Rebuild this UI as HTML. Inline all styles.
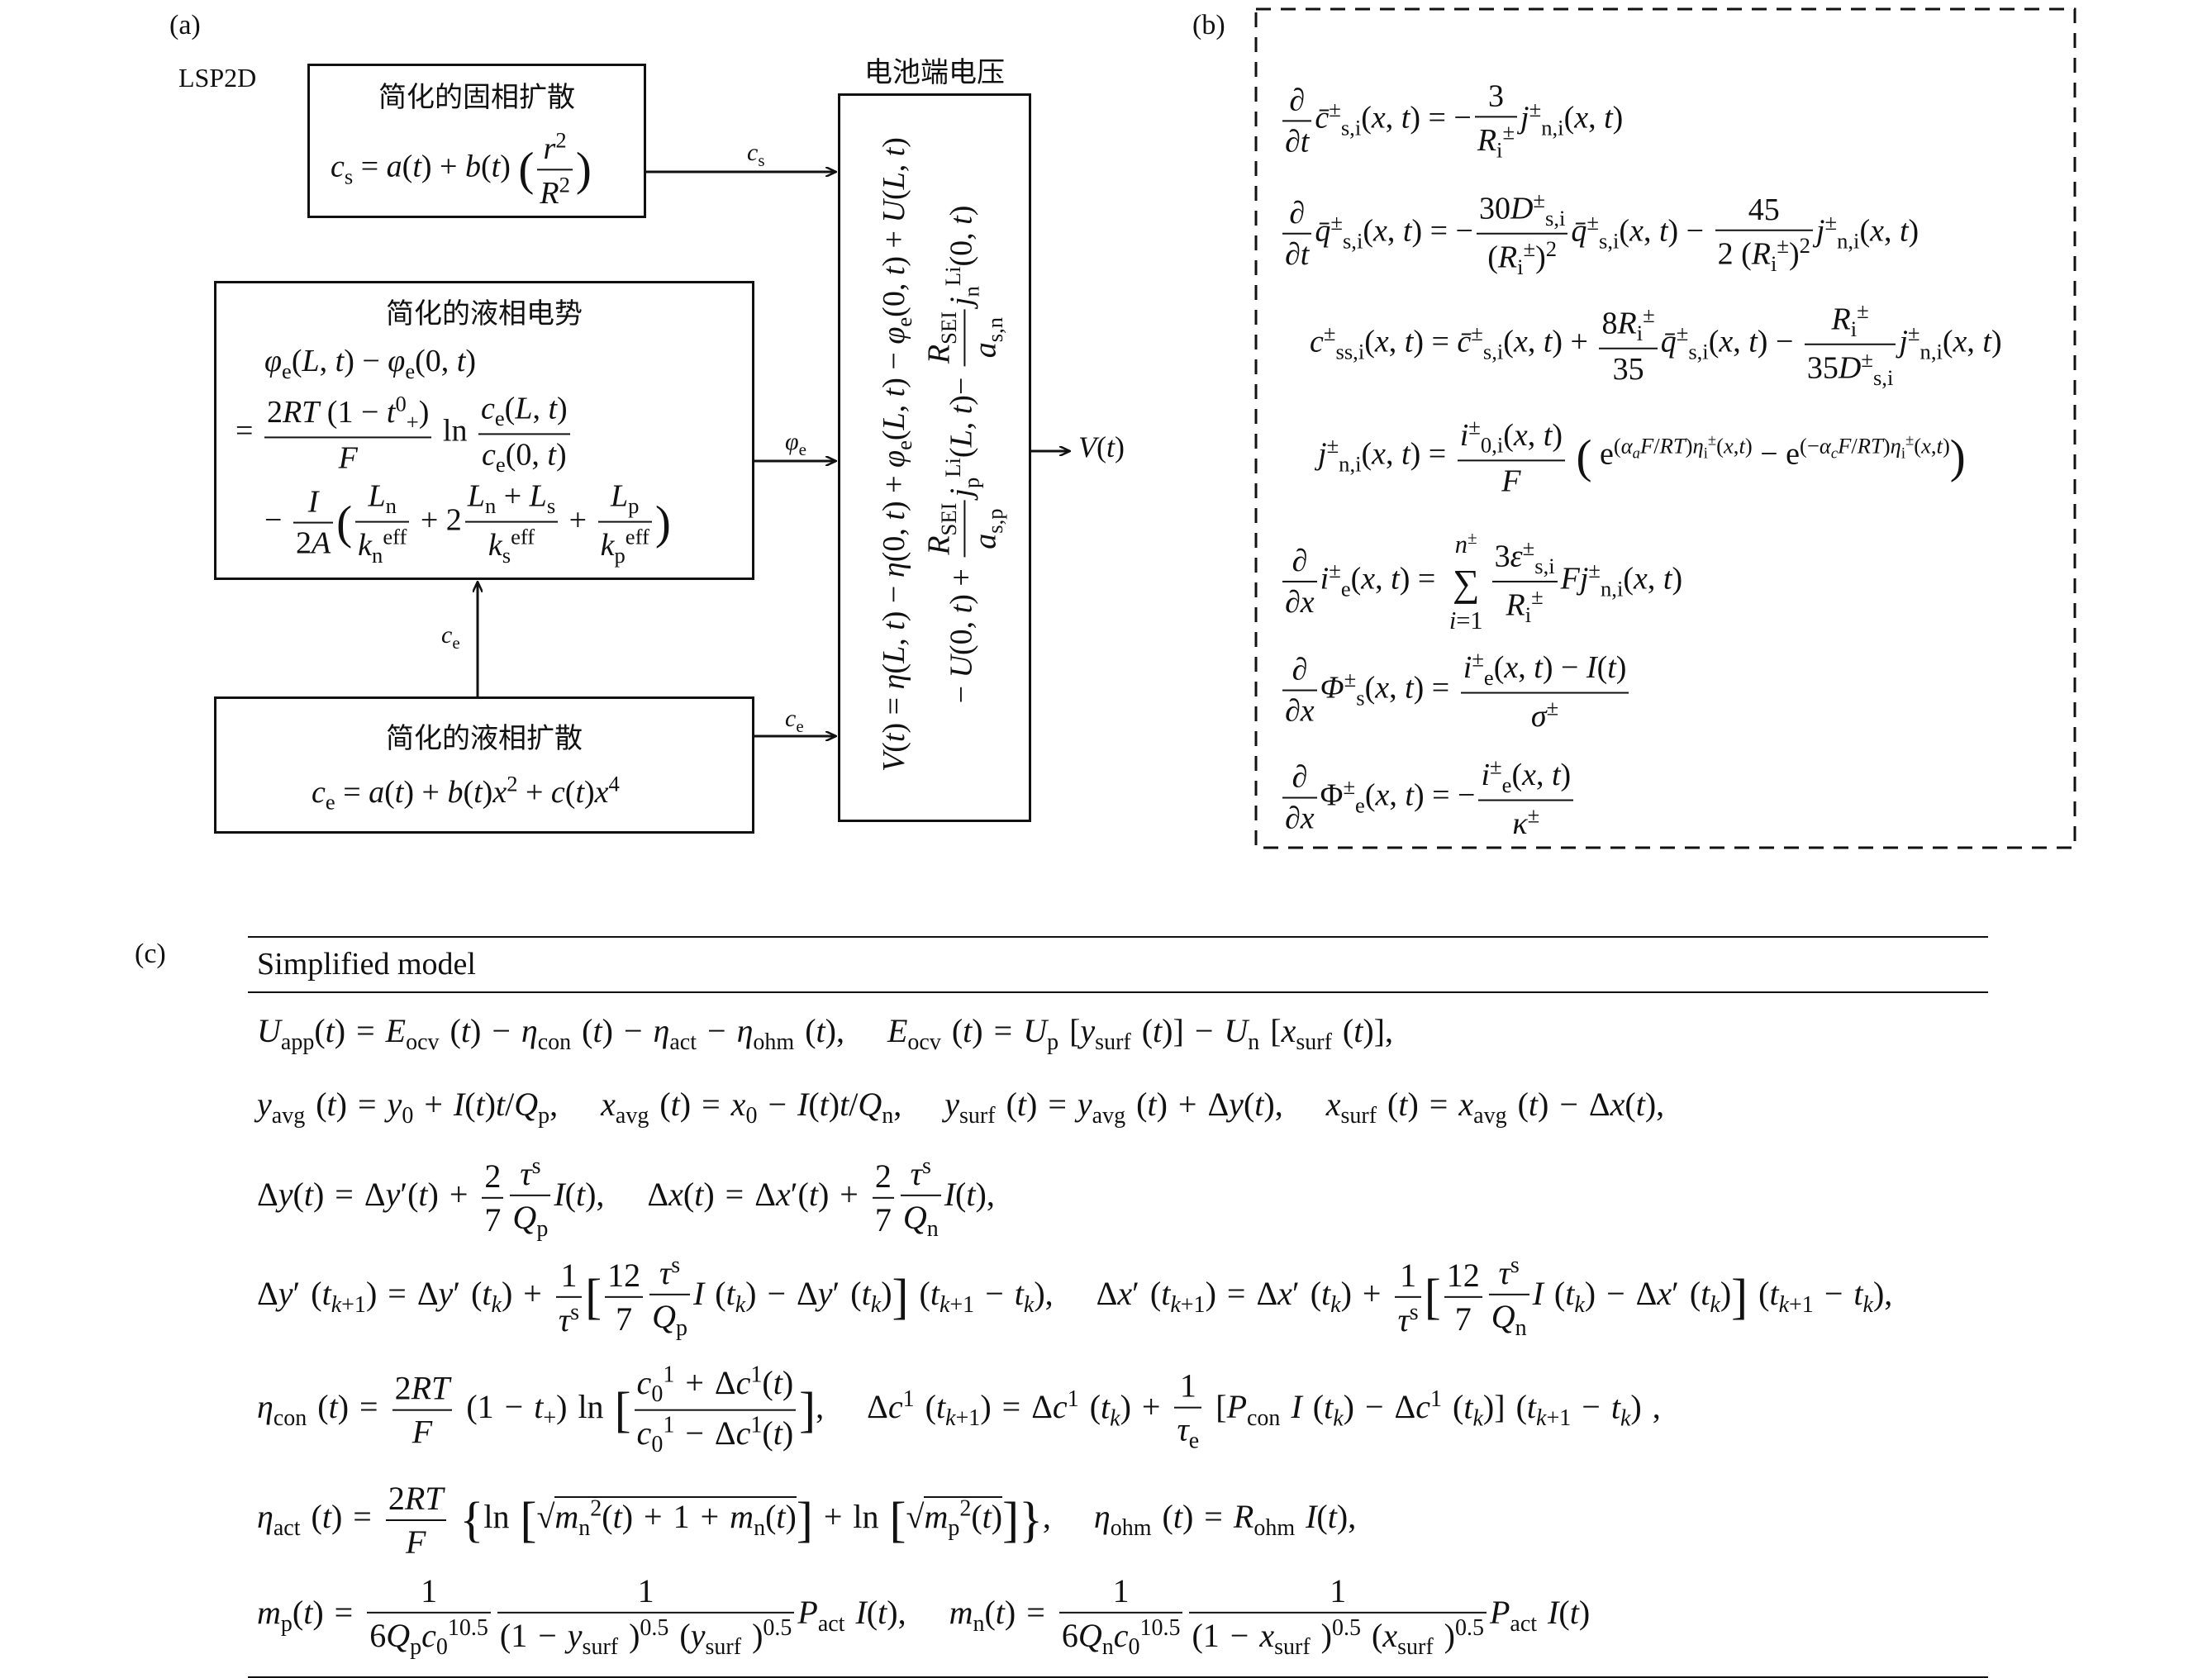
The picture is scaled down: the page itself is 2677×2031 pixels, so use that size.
<!DOCTYPE html>
<html><head><meta charset="utf-8">
<style>
html,body{margin:0;padding:0;background:#fff;}
body{width:2677px;height:2031px;position:relative;overflow:hidden;font-family:"Liberation Serif","Noto Serif CJK SC",serif;color:#111;}
.a{position:absolute;white-space:nowrap;}
.eq{position:absolute;white-space:nowrap;font-size:38px;transform:translateY(-50%);}
.box{position:absolute;border:3px solid #111;box-sizing:border-box;}
i{font-style:italic;}
.fr{display:inline-flex;flex-direction:column;vertical-align:middle;text-align:center;margin:0 4px;}
.fr>span:first-child{border-bottom:2px solid #111;padding:0 3px 2px;}
.fr>span:last-child{padding:2px 3px 0;}
sub,sup{font-size:70%;}
.cn{font-family:"Noto Sans CJK SC","Noto Serif CJK SC",sans-serif;}
.big{font-size:150%;vertical-align:middle;}
.c{font-size:40px !important;word-spacing:3px;}
</style></head><body>
<svg class="a" style="left:0;top:0" width="2677" height="2031">
<defs><marker id="ar" markerWidth="14" markerHeight="12" refX="13" refY="6" orient="auto" markerUnits="userSpaceOnUse"><path d="M0,0 L13,6 L0,12" fill="none" stroke="#111" stroke-width="2.5"/></marker></defs>
<g stroke="#111" stroke-width="3" fill="none">
<line x1="782" y1="208" x2="1012" y2="208" marker-end="url(#ar)"/>
<line x1="913" y1="558" x2="1012" y2="558" marker-end="url(#ar)"/>
<line x1="913" y1="891" x2="1012" y2="891" marker-end="url(#ar)"/>
<line x1="578" y1="843" x2="578" y2="704" marker-end="url(#ar)"/>
<line x1="1248" y1="546" x2="1295" y2="546" marker-end="url(#ar)"/>
<rect x="1520" y="11" width="991" height="1015" stroke-dasharray="18,12"/>
<line x1="300" y1="1134" x2="2406" y2="1134" stroke-width="2"/>
<line x1="300" y1="1201" x2="2406" y2="1201" stroke-width="2"/>
<line x1="300" y1="2030" x2="2406" y2="2030" stroke-width="2"/>
</g></svg>

<div class="a" style="left:205px;top:12px;font-size:34px">(a)</div>
<div class="a" style="left:216px;top:76px;font-size:32px">LSP2D</div>
<div class="a" style="left:1443px;top:12px;font-size:34px">(b)</div>
<div class="a" style="left:163px;top:1136px;font-size:34px">(c)</div>

<div class="box" style="left:372px;top:77px;width:410px;height:187px"></div>
<div class="a cn" style="left:372px;top:90px;width:410px;text-align:center;font-size:34px">简化的固相扩散</div>
<div class="eq" style="left:400px;top:205px"><i>c</i><sub>s</sub> = <i>a</i>(<i>t</i>) + <i>b</i>(<i>t</i>) <span class="big">(</span><span class="fr"><span><i>r</i><sup>2</sup></span><span><i>R</i><sup>2</sup></span></span><span class="big">)</span></div>

<div class="box" style="left:259px;top:340px;width:654px;height:362px"></div>
<div class="a cn" style="left:259px;top:352px;width:654px;text-align:center;font-size:34px">简化的液相电势</div>
<div class="eq" style="left:320px;top:440px"><i>φ</i><sub>e</sub>(<i>L</i>, <i>t</i>) − <i>φ</i><sub>e</sub>(0, <i>t</i>)</div>
<div class="eq" style="left:285px;top:525px">= <span class="fr"><span>2<i>RT</i> (1 − <i>t</i><sup>0</sup><sub>+</sub>)</span><span><i>F</i></span></span> ln <span class="fr"><span><i>c</i><sub>e</sub>(<i>L</i>, <i>t</i>)</span><span><i>c</i><sub>e</sub>(0, <i>t</i>)</span></span></div>
<div class="eq" style="left:320px;top:633px">− <span class="fr"><span><i>I</i></span><span>2<i>A</i></span></span><span class="big">(</span><span class="fr"><span><i>L</i><sub>n</sub></span><span><i>k</i><sub>n</sub><sup>eff</sup></span></span> + 2<span class="fr"><span><i>L</i><sub>n</sub> + <i>L</i><sub>s</sub></span><span><i>k</i><sub>s</sub><sup>eff</sup></span></span> + <span class="fr"><span><i>L</i><sub>p</sub></span><span><i>k</i><sub>p</sub><sup>eff</sup></span></span><span class="big">)</span></div>

<div class="box" style="left:259px;top:843px;width:654px;height:166px"></div>
<div class="a cn" style="left:259px;top:866px;width:654px;text-align:center;font-size:34px">简化的液相扩散</div>
<div class="eq" style="left:377px;top:960px"><i>c</i><sub>e</sub> = <i>a</i>(<i>t</i>) + <i>b</i>(<i>t</i>)<i>x</i><sup>2</sup> + <i>c</i>(<i>t</i>)<i>x</i><sup>4</sup></div>

<div class="a" style="left:904px;top:168px;font-size:30px"><i>c</i><sub>s</sub></div>
<div class="a" style="left:950px;top:518px;font-size:30px"><i>φ</i><sub>e</sub></div>
<div class="a" style="left:950px;top:853px;font-size:30px"><i>c</i><sub>e</sub></div>
<div class="a" style="left:534px;top:752px;font-size:30px"><i>c</i><sub>e</sub></div>
<div class="a" style="left:1305px;top:520px;font-size:36px"><i>V</i>(<i>t</i>)</div>

<div class="a cn" style="left:1014px;top:60px;width:234px;text-align:center;font-size:34px">电池端电压</div>
<div class="box" style="left:1014px;top:113px;width:234px;height:882px"></div>
<div class="a" style="left:1085px;top:550px;font-size:38px;transform:translate(-50%,-50%) rotate(-90deg)"><i>V</i>(<i>t</i>) = <i>η</i>(<i>L</i>, <i>t</i>) − <i>η</i>(0, <i>t</i>) + <i>φ</i><sub>e</sub>(<i>L</i>, <i>t</i>) − <i>φ</i><sub>e</sub>(0, <i>t</i>) + <i>U</i>(<i>L</i>, <i>t</i>)</div>
<div class="a" style="left:1167px;top:550px;font-size:38px;transform:translate(-50%,-50%) rotate(-90deg)">− <i>U</i>(0, <i>t</i>) + <span class="fr"><span><i>R</i><sub>SEI</sub></span><span><i>a</i><sub>s,p</sub></span></span><i>j</i><sub>p</sub><sup>Li</sup>(<i>L</i>, <i>t</i>)− <span class="fr"><span><i>R</i><sub>SEI</sub></span><span><i>a</i><sub>s,n</sub></span></span><i>j</i><sub>n</sub><sup>Li</sup>(0, <i>t</i>)</div>

<!-- (b) -->
<div class="eq" style="left:1548px;top:146px"><span class="fr"><span>∂</span><span>∂<i>t</i></span></span><i>c̄</i><sup>±</sup><sub>s,i</sub>(<i>x</i>, <i>t</i>) = −<span class="fr"><span>3</span><span><i>R</i><sub>i</sub><sup>±</sup></span></span><i>j</i><sup>±</sup><sub>n,i</sub>(<i>x</i>, <i>t</i>)</div>
<div class="eq" style="left:1548px;top:283px"><span class="fr"><span>∂</span><span>∂<i>t</i></span></span><i>q̄</i><sup>±</sup><sub>s,i</sub>(<i>x</i>, <i>t</i>) = −<span class="fr"><span>30<i>D</i><sup>±</sup><sub>s,i</sub></span><span>(<i>R</i><sub>i</sub><sup>±</sup>)<sup>2</sup></span></span><i>q̄</i><sup>±</sup><sub>s,i</sub>(<i>x</i>, <i>t</i>) − <span class="fr"><span>45</span><span>2 (<i>R</i><sub>i</sub><sup>±</sup>)<sup>2</sup></span></span><i>j</i><sup>±</sup><sub>n,i</sub>(<i>x</i>, <i>t</i>)</div>
<div class="eq" style="left:1585px;top:417px"><i>c</i><sup>±</sup><sub>ss,i</sub>(<i>x</i>, <i>t</i>) = <i>c̄</i><sup>±</sup><sub>s,i</sub>(<i>x</i>, <i>t</i>) + <span class="fr"><span>8<i>R</i><sub>i</sub><sup>±</sup></span><span>35</span></span><i>q̄</i><sup>±</sup><sub>s,i</sub>(<i>x</i>, <i>t</i>) − <span class="fr"><span><i>R</i><sub>i</sub><sup>±</sup></span><span>35<i>D</i><sup>±</sup><sub>s,i</sub></span></span><i>j</i><sup>±</sup><sub>n,i</sub>(<i>x</i>, <i>t</i>)</div>
<div class="eq" style="left:1595px;top:553px"><i>j</i><sup>±</sup><sub>n,i</sub>(<i>x</i>, <i>t</i>) = <span class="fr"><span><i>i</i><sup>±</sup><sub>0,i</sub>(<i>x</i>, <i>t</i>)</span><span><i>F</i></span></span> <span class="big">(</span> e<sup>(<i>α<sub>a</sub>F</i>/<i>RT</i>)<i>η</i><sub>i</sub><sup>±</sup>(<i>x</i>,<i>t</i>)</sup> − e<sup>(−<i>α<sub>c</sub>F</i>/<i>RT</i>)<i>η</i><sub>i</sub><sup>±</sup>(<i>x</i>,<i>t</i>)</sup><span class="big">)</span></div>
<div class="eq" style="left:1548px;top:704px"><span class="fr"><span>∂</span><span>∂<i>x</i></span></span><i>i</i><sup>±</sup><sub>e</sub>(<i>x</i>, <i>t</i>) = <span class="fr" style="font-size:80%"><span style="border:none"><i>n</i><sup>±</sup></span><span style="font-size:150%">∑</span><span><i>i</i>=1</span></span><span class="fr"><span>3<i>ε</i><sup>±</sup><sub>s,i</sub></span><span><i>R</i><sub>i</sub><sup>±</sup></span></span><i>Fj</i><sup>±</sup><sub>n,i</sub>(<i>x</i>, <i>t</i>)</div>
<div class="eq" style="left:1548px;top:836px"><span class="fr"><span>∂</span><span>∂<i>x</i></span></span><i>Φ</i><sup>±</sup><sub>s</sub>(<i>x</i>, <i>t</i>) = <span class="fr"><span><i>i</i><sup>±</sup><sub>e</sub>(<i>x</i>, <i>t</i>) − <i>I</i>(<i>t</i>)</span><span><i>σ</i><sup>±</sup></span></span></div>
<div class="eq" style="left:1548px;top:966px"><span class="fr"><span>∂</span><span>∂<i>x</i></span></span>Φ<sup>±</sup><sub>e</sub>(<i>x</i>, <i>t</i>) = −<span class="fr"><span><i>i</i><sup>±</sup><sub>e</sub>(<i>x</i>, <i>t</i>)</span><span><i>κ</i><sup>±</sup></span></span></div>

<!-- (c) -->
<div class="a" style="left:311px;top:1145px;font-size:38px">Simplified model</div>
<div class="eq c" style="left:311px;top:1251px"><i>U</i><sub>app</sub>(<i>t</i>) = <i>E</i><sub>ocv</sub> (<i>t</i>) − <i>η</i><sub>con</sub> (<i>t</i>) − <i>η</i><sub>act</sub> − <i>η</i><sub>ohm</sub> (<i>t</i>), &nbsp;&nbsp; <i>E</i><sub>ocv</sub> (<i>t</i>) = <i>U</i><sub>p</sub> [<i>y</i><sub>surf</sub> (<i>t</i>)] − <i>U</i><sub>n</sub> [<i>x</i><sub>surf</sub> (<i>t</i>)],</div>
<div class="eq c" style="left:311px;top:1340px"><i>y</i><sub>avg</sub> (<i>t</i>) = <i>y</i><sub>0</sub> + <i>I</i>(<i>t</i>)<i>t</i>/<i>Q</i><sub>p</sub>, &nbsp;&nbsp; <i>x</i><sub>avg</sub> (<i>t</i>) = <i>x</i><sub>0</sub> − <i>I</i>(<i>t</i>)<i>t</i>/<i>Q</i><sub>n</sub>, &nbsp;&nbsp; <i>y</i><sub>surf</sub> (<i>t</i>) = <i>y</i><sub>avg</sub> (<i>t</i>) + Δ<i>y</i>(<i>t</i>), &nbsp;&nbsp; <i>x</i><sub>surf</sub> (<i>t</i>) = <i>x</i><sub>avg</sub> (<i>t</i>) − Δ<i>x</i>(<i>t</i>),</div>
<div class="eq c" style="left:311px;top:1450px">Δ<i>y</i>(<i>t</i>) = Δ<i>y</i>′(<i>t</i>) + <span class="fr"><span>2</span><span>7</span></span><span class="fr"><span><i>τ</i><sup>s</sup></span><span><i>Q</i><sub>p</sub></span></span><i>I</i>(<i>t</i>), &nbsp;&nbsp; Δ<i>x</i>(<i>t</i>) = Δ<i>x</i>′(<i>t</i>) + <span class="fr"><span>2</span><span>7</span></span><span class="fr"><span><i>τ</i><sup>s</sup></span><span><i>Q</i><sub>n</sub></span></span><i>I</i>(<i>t</i>),</div>
<div class="eq c" style="left:311px;top:1570px">Δ<i>y</i>′ (<i>t</i><sub><i>k</i>+1</sub>) = Δ<i>y</i>′ (<i>t<sub>k</sub></i>) + <span class="fr"><span>1</span><span><i>τ</i><sup>s</sup></span></span><span class="big">[</span><span class="fr"><span>12</span><span>7</span></span><span class="fr"><span><i>τ</i><sup>s</sup></span><span><i>Q</i><sub>p</sub></span></span><i>I</i> (<i>t<sub>k</sub></i>) − Δ<i>y</i>′ (<i>t<sub>k</sub></i>)<span class="big">]</span> (<i>t</i><sub><i>k</i>+1</sub> − <i>t<sub>k</sub></i>), &nbsp;&nbsp; Δ<i>x</i>′ (<i>t</i><sub><i>k</i>+1</sub>) = Δ<i>x</i>′ (<i>t<sub>k</sub></i>) + <span class="fr"><span>1</span><span><i>τ</i><sup>s</sup></span></span><span class="big">[</span><span class="fr"><span>12</span><span>7</span></span><span class="fr"><span><i>τ</i><sup>s</sup></span><span><i>Q</i><sub>n</sub></span></span><i>I</i> (<i>t<sub>k</sub></i>) − Δ<i>x</i>′ (<i>t<sub>k</sub></i>)<span class="big">]</span> (<i>t</i><sub><i>k</i>+1</sub> − <i>t<sub>k</sub></i>),</div>
<div class="eq c" style="left:311px;top:1707px"><i>η</i><sub>con</sub> (<i>t</i>) = <span class="fr"><span>2<i>RT</i></span><span><i>F</i></span></span> (1 − <i>t</i><sub>+</sub>) ln <span class="big">[</span><span class="fr"><span><i>c</i><sub>0</sub><sup>1</sup> + Δ<i>c</i><sup>1</sup>(<i>t</i>)</span><span><i>c</i><sub>0</sub><sup>1</sup> − Δ<i>c</i><sup>1</sup>(<i>t</i>)</span></span><span class="big">]</span>, &nbsp;&nbsp; Δ<i>c</i><sup>1</sup> (<i>t</i><sub><i>k</i>+1</sub>) = Δ<i>c</i><sup>1</sup> (<i>t<sub>k</sub></i>) + <span class="fr"><span>1</span><span><i>τ</i><sub>e</sub></span></span> [<i>P</i><sub>con</sub> <i>I</i> (<i>t<sub>k</sub></i>) − Δ<i>c</i><sup>1</sup> (<i>t<sub>k</sub></i>)] (<i>t</i><sub><i>k</i>+1</sub> − <i>t<sub>k</sub></i>) ,</div>
<div class="eq c" style="left:311px;top:1840px"><i>η</i><sub>act</sub> (<i>t</i>) = <span class="fr"><span>2<i>RT</i></span><span><i>F</i></span></span> <span class="big">{</span>ln <span class="big">[</span>√<span style="border-top:2px solid #111"><i>m</i><sub>n</sub><sup>2</sup>(<i>t</i>) + 1 + <i>m</i><sub>n</sub>(<i>t</i>)</span><span class="big">]</span> + ln <span class="big">[</span>√<span style="border-top:2px solid #111"><i>m</i><sub>p</sub><sup>2</sup>(<i>t</i>)</span><span class="big">]</span><span class="big">}</span>, &nbsp;&nbsp; <i>η</i><sub>ohm</sub> (<i>t</i>) = <i>R</i><sub>ohm</sub> <i>I</i>(<i>t</i>),</div>
<div class="eq c" style="left:311px;top:1956px"><i>m</i><sub>p</sub>(<i>t</i>) = <span class="fr"><span>1</span><span>6<i>Q</i><sub>p</sub><i>c</i><sub>0</sub><sup>10.5</sup></span></span><span class="fr"><span>1</span><span>(1 − <i>y</i><sub>surf</sub> )<sup>0.5</sup> (<i>y</i><sub>surf</sub> )<sup>0.5</sup></span></span><i>P</i><sub>act</sub> <i>I</i>(<i>t</i>), &nbsp;&nbsp; <i>m</i><sub>n</sub>(<i>t</i>) = <span class="fr"><span>1</span><span>6<i>Q</i><sub>n</sub><i>c</i><sub>0</sub><sup>10.5</sup></span></span><span class="fr"><span>1</span><span>(1 − <i>x</i><sub>surf</sub> )<sup>0.5</sup> (<i>x</i><sub>surf</sub> )<sup>0.5</sup></span></span><i>P</i><sub>act</sub> <i>I</i>(<i>t</i>)</div>
</body></html>
